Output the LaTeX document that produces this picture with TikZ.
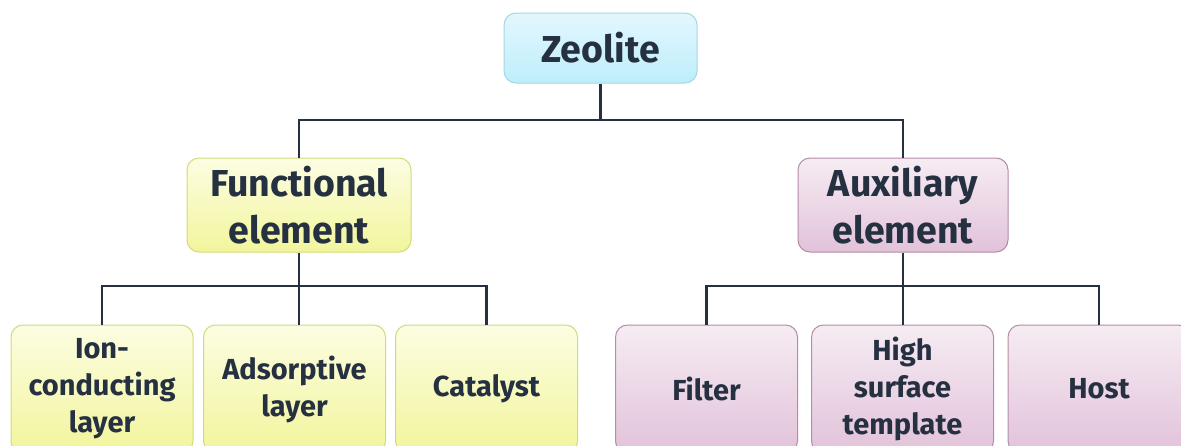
\documentclass[tikz,border=0pt]{standalone}
\usepackage{fontspec}
\setmainfont{Fira Sans}
\definecolor{ink}{HTML}{253041}
\definecolor{cyanT}{HTML}{E3F7FD}
\definecolor{cyanB}{HTML}{BDEEFC}
\definecolor{cyanD}{HTML}{A6D6E6}
\definecolor{yelT}{HTML}{FCFDE2}
\definecolor{yelB}{HTML}{F2F59C}
\definecolor{yelD}{HTML}{D2DA7C}
\definecolor{pinkT}{HTML}{F6ECF3}
\definecolor{pinkB}{HTML}{E2C2DA}
\definecolor{pinkD}{HTML}{B48CA8}
\tikzset{
  box/.style={rounded corners=12pt, line width=1pt, align=center, text=ink,
    font=\bfseries, inner sep=0pt},
  topbox/.style={box, font=\fontsize{37.5}{47}\selectfont\bfseries},
  leafbox/.style={box, font=\fontsize{29}{37}\selectfont\bfseries,
    minimum width=182pt, minimum height=128pt},
  cyanbox/.style={draw=cyanD, top color=cyanT, bottom color=cyanB},
  yelbox/.style={draw=yelD, top color=yelT, bottom color=yelB},
  pinkbox/.style={draw=pinkD, top color=pinkT, bottom color=pinkB},
  link/.style={draw=ink, line width=2.5pt}
}
\begin{document}
\begin{tikzpicture}[x=1pt, y=-1pt]
\clip (0,0) rectangle (1181,445);
\fill[white] (0,0) rectangle (1181,445);
% nodes
\node[topbox, cyanbox, minimum width=193pt, minimum height=70pt] (zeo) at (600.5,48) {Zeolite};
\node[topbox, yelbox, minimum width=224pt, minimum height=94pt] (fun) at (299,205) {Functional\\element};
\node[topbox, pinkbox, minimum width=210pt, minimum height=94pt] (aux) at (903,205) {Auxiliary\\element};
\node[leafbox, yelbox] (ion) at (102,389) {Ion-\\conducting\\layer};
\node[leafbox, yelbox] (ads) at (294.5,389) {Adsorptive\\layer};
\node[leafbox, yelbox] (cat) at (486.5,389) {Catalyst};
\node[leafbox, pinkbox] (fil) at (706.5,389) {Filter};
\node[leafbox, pinkbox] (hig) at (902.5,389) {High\\surface\\template};
\node[leafbox, pinkbox] (hos) at (1099,389) {Host};
% junction coordinates
\coordinate (j0) at (600.5,120);
\coordinate (j1) at (299,286);
\coordinate (j2) at (903,286);
% connectors
\draw[link] (zeo.south) -- (j0);
\draw[link] (fun.north) |- (j0) -| (aux.north);
\draw[link] (fun.south) -- (j1);
\draw[link] (ion.north) |- (j1) -| (cat.north);
\draw[link] (j1) -- (ads.north -| j1);
\draw[link] (aux.south) -- (j2);
\draw[link] (fil.north) |- (j2) -| (hos.north);
\draw[link] (j2) -- (hig.north -| j2);
\end{tikzpicture}
\end{document}
